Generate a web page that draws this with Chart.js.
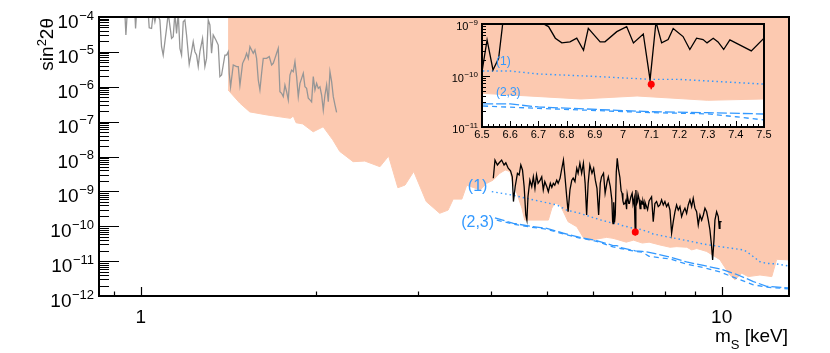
<!DOCTYPE html>
<html>
<head>
<meta charset="utf-8">
<script src="https://cdn.jsdelivr.net/npm/chart.js@4.4.1/dist/chart.umd.min.js"></script>
<style>
  html, body { margin: 0; padding: 0; background: #fff; }
  #wrap { position: relative; width: 830px; height: 353px; }
  #main { position: absolute; left: 0; top: 0; }
  #inset { position: absolute; left: 440px; top: 0; }
</style>
</head>
<body>
<div id="wrap">
  <canvas id="main" width="830" height="353"></canvas>
  <canvas id="inset" width="350" height="150"></canvas>
</div>
<script>
// lower edge of the excluded (shaded) region, [m_S keV, sin^2 2theta]
const excludedEdge = [
  [1.413, 8.1e-7], [1.48, 3.4e-7], [1.54, 1.9e-7], [1.65, 1.55e-7], [1.81, 1.24e-7],
  [1.83, 1.45e-7], [1.85, 9.3e-8], [1.90, 8.6e-8], [1.98, 5.1e-8], [2.06, 7.1e-8],
  [2.14, 3.0e-8], [2.20, 1.4e-8], [2.32, 7.1e-9], [2.43, 7.4e-9], [2.58, 5.1e-9],
  [2.67, 1.03e-8], [2.77, 1.27e-9], [2.85, 1.52e-9], [2.95, 3.7e-9], [3.10, 5.1e-10],
  [3.27, 2.35e-10], [3.38, 2.9e-10], [3.45, 6.0e-10], [3.57, 6.0e-10], [3.64, 1.5e-9],
  [3.84, 1.1e-9], [3.94, 1.7e-9], [4.04, 2.1e-9], [4.15, 3.3e-9], [4.24, 4.1e-9],
  [4.32, 3.7e-9], [4.37, 1.7e-9], [4.44, 8.8e-10], [4.53, 3.3e-10], [4.58, 1.5e-10],
  [5.03, 1.5e-10], [5.10, 3.3e-10], [5.16, 4.6e-10], [5.27, 4.1e-10], [5.34, 2.6e-10],
  [5.44, 1.35e-10], [5.63, 9.7e-11], [5.78, 4.7e-11], [5.93, 4.0e-11], [6.34, 4.8e-11],
  [6.50, 4.5e-11], [6.60, 4.2e-11], [6.85, 3.5e-11], [7.05, 4.0e-11], [7.30, 3.3e-11],
  [7.50, 3.5e-11], [7.83, 2.9e-11], [8.15, 2.5e-11], [8.37, 2.6e-11], [8.71, 2.5e-11],
  [8.88, 2.1e-11], [9.06, 2.3e-11], [9.42, 1.9e-11], [9.93, 1.1e-11], [10.33, 4.0e-12],
  [10.54, 2.9e-12], [10.83, 4.5e-12], [11.11, 3.6e-12], [11.64, 4.0e-12], [12.20, 3.6e-12],
  [12.44, 1.13e-11], [13.06, 1.08e-11]
];

// earlier limit (grey curve)
const greyLimit = [
  [0.9385, 1.3e-4], [0.9423, 3.05e-5], [0.9473, 1.3e-4], [0.9765, 1.3e-4], [0.9791, 4.7e-5],
  [0.9830, 1.3e-4], [1.0295, 1.3e-4], [1.0336, 4.9e-5], [1.0432, 4.7e-5], [1.0501, 1.3e-4],
  [1.0571, 7.3e-5], [1.0641, 1.3e-4], [1.0782, 8.2e-5], [1.0854, 1.41e-5], [1.0925, 8.1e-6],
  [1.0999, 1.96e-5], [1.1072, 4.7e-5], [1.1145, 1.3e-4], [1.1293, 2.44e-5], [1.1368, 2.73e-5],
  [1.1444, 1.3e-4], [1.1519, 3.4e-5], [1.1596, 1.3e-4], [1.1673, 1.26e-5], [1.1750, 8.1e-6],
  [1.1828, 7.3e-5], [1.1906, 8.2e-5], [1.1985, 3.05e-5], [1.2112, 4.4e-6], [1.2225, 1.01e-5],
  [1.2306, 1.96e-5], [1.2388, 1.01e-5], [1.2470, 8.1e-6], [1.2553, 3.8e-6], [1.2636, 1.01e-5],
  [1.2770, 2.44e-5], [1.2889, 3.8e-6], [1.2974, 6.5e-6], [1.3061, 8.2e-5], [1.3147, 5.9e-5],
  [1.3234, 9.1e-6], [1.3322, 3.05e-5], [1.3464, 2.19e-5], [1.3589, 1.57e-5], [1.3679, 1.95e-6],
  [1.3770, 2.17e-6], [1.3861, 4.2e-6], [1.3953, 8.1e-6], [1.4046, 8.1e-6], [1.4139, 1.01e-5],
  [1.4196, 2.43e-6], [1.4271, 1.0e-6], [1.4423, 4.2e-6], [1.4615, 3.8e-6], [1.4712, 3.8e-6],
  [1.4810, 1.12e-6], [1.4967, 4.7e-6], [1.5106, 6.5e-6], [1.5206, 9.1e-6], [1.5307, 6.5e-6],
  [1.5409, 1.41e-5], [1.5511, 1.13e-5], [1.5613, 9.1e-6], [1.5717, 1.13e-5], [1.5821, 6.5e-6],
  [1.5926, 1.56e-6], [1.6031, 8.1e-7], [1.6138, 2.43e-6], [1.6245, 6.5e-6], [1.6353, 6.5e-6],
  [1.6461, 6.5e-6], [1.6636, 7.3e-6], [1.6791, 4.2e-6], [1.6902, 4.7e-6], [1.7014, 6.5e-6],
  [1.7127, 9.1e-6], [1.7240, 1.26e-5], [1.7355, 7.2e-7], [1.7470, 6.5e-7], [1.7586, 5.2e-7],
  [1.7702, 1.12e-6], [1.7820, 7.2e-7], [1.7938, 4.2e-7], [1.8057, 2.17e-6], [1.8177, 3.0e-6],
  [1.8297, 2.7e-6], [1.8419, 5.2e-6], [1.8541, 1.95e-6], [1.8664, 5.2e-7], [1.8788, 1.25e-6],
  [1.8912, 1.74e-6], [1.9038, 2.43e-6], [1.9164, 1.0e-6], [1.9291, 9.0e-7], [1.9419, 4.7e-7],
  [1.9548, 4.2e-7], [1.9677, 3.7e-7], [1.9808, 1.95e-6], [1.9939, 8.1e-7], [2.0072, 1.25e-6],
  [2.0205, 9.0e-7], [2.0339, 1.0e-6], [2.0474, 5.8e-7], [2.0609, 2.15e-7], [2.0746, 5.8e-7],
  [2.0884, 1.12e-6], [2.1022, 3.7e-7], [2.1162, 2.7e-6], [2.1302, 1.4e-6], [2.1443, 5.2e-7],
  [2.1585, 3.0e-7], [2.1728, 1.85e-7]
];

// this limit (black curve)
const blackLimit = [
  [4.044, 2.37e-9], [4.071, 7.9e-9], [4.11, 5.7e-9], [4.14, 6.6e-9], [4.18, 7.9e-9],
  [4.22, 5.7e-9], [4.25, 6.6e-9], [4.29, 4.6e-9], [4.33, 3.9e-9], [4.36, 2.6e-9],
  [4.38, 5.1e-10], [4.41, 1.36e-9], [4.45, 3.3e-9], [4.48, 2.95e-9], [4.51, 5.7e-9],
  [4.54, 4.1e-9], [4.57, 1.36e-9], [4.60, 2.1e-10], [4.62, 1.5e-10], [4.64, 7.0e-10],
  [4.675, 2.1e-9], [4.71, 1.36e-9], [4.74, 2.6e-9], [4.77, 1.22e-9], [4.80, 2.95e-9],
  [4.83, 1.7e-9], [4.87, 2.1e-9], [4.90, 2.6e-9], [4.93, 1.1e-9], [4.96, 1.9e-9],
  [5.00, 1.36e-9], [5.03, 9.8e-10], [5.07, 1.7e-9], [5.10, 1.3e-9], [5.13, 1.7e-9],
  [5.16, 1.5e-9], [5.20, 2.1e-9], [5.23, 1.7e-9], [5.27, 2.4e-9], [5.30, 4.1e-9],
  [5.34, 7.9e-9], [5.37, 2.95e-9], [5.41, 7.0e-10], [5.44, 2.6e-10], [5.48, 1.1e-9],
  [5.52, 2.1e-9], [5.55, 2.4e-9], [5.59, 1.9e-9], [5.63, 4.6e-9], [5.66, 3.3e-9],
  [5.70, 6.4e-9], [5.74, 3.3e-9], [5.78, 6.4e-9], [5.82, 1.7e-9], [5.855, 2.1e-10],
  [5.89, 1.7e-9], [5.93, 5.7e-9], [5.98, 3.3e-9], [6.02, 4.6e-9], [6.06, 2.1e-9],
  [6.10, 1.22e-9], [6.14, 2.1e-10], [6.18, 1.7e-9], [6.21, 2.6e-9], [6.26, 3.3e-9],
  [6.30, 8.8e-10], [6.35, 1.9e-9], [6.38, 2.6e-9], [6.43, 1.36e-9], [6.47, 5.7e-10],
  [6.49, 1.4e-10], [6.50, 1.19e-10], [6.518, 4.9e-10], [6.539, 1.28e-10], [6.559, 2.16e-10],
  [6.585, 3.5e-9], [6.61, 8.9e-9], [6.64, 4.5e-9], [6.68, 2.5e-9], [6.712, 1.05e-9],
  [6.736, 8.9e-10], [6.76, 5.3e-10], [6.783, 4.3e-10], [6.812, 4.5e-10], [6.836, 5.3e-10],
  [6.86, 3.1e-10], [6.877, 8.2e-10], [6.919, 4.5e-10], [6.936, 4.5e-10], [6.978, 7.1e-10],
  [7.013, 8.9e-10], [7.037, 4.3e-10], [7.072, 6.4e-10], [7.096, 8.2e-11], [7.117, 1.1e-9],
  [7.137, 4.3e-10], [7.16, 5.0e-10], [7.178, 8.2e-10], [7.213, 5.7e-10], [7.237, 3.2e-10],
  [7.261, 5.3e-10], [7.284, 5.0e-10], [7.298, 4.3e-10], [7.32, 5.3e-10], [7.337, 4.5e-10],
  [7.357, 3.2e-10], [7.379, 4.9e-10], [7.455, 3.0e-10], [7.50, 5.3e-10], [7.574, 7.0e-10],
  [7.624, 1.35e-10], [7.675, 4.5e-10], [7.726, 5.1e-10], [7.777, 3.65e-10], [7.829, 4.07e-10],
  [7.881, 5.7e-10], [7.933, 4.07e-10], [7.985, 5.1e-10], [8.038, 3.65e-10], [8.091, 4.5e-10],
  [8.147, 2.9e-10], [8.20, 6.3e-11], [8.254, 1.35e-10], [8.309, 2.6e-10], [8.363, 4.07e-10],
  [8.419, 2.9e-10], [8.475, 3.65e-10], [8.532, 1.9e-10], [8.587, 2.6e-10], [8.645, 3.3e-10],
  [8.703, 2.35e-10], [8.759, 4.07e-10], [8.818, 5.7e-10], [8.877, 3.65e-10], [8.934, 6.3e-10],
  [8.995, 3.3e-10], [9.055, 2.6e-10], [9.114, 1.09e-10], [9.175, 2.1e-10], [9.237, 1.5e-10],
  [9.299, 2.1e-10], [9.359, 3.3e-10], [9.422, 2.6e-10], [9.484, 1.5e-10], [9.546, 7.8e-11],
  [9.61, 2.6e-11], [9.648, 1.08e-11], [9.699, 4.0e-11], [9.737, 1.5e-10], [9.802, 2.6e-10],
  [9.867, 1.9e-10], [9.906, 8.7e-11], [9.933, 1.35e-10], [10.0, 1.35e-10]
];

// sensitivity curves (1) dotted, (2) and (3) dashed
const sens1 = [
  [4.02, 9.8e-10], [4.35, 7.9e-10], [4.74, 5.7e-10], [5.20, 4.1e-10], [5.41, 2.9e-10],
  [5.70, 2.35e-10], [5.93, 1.9e-10], [6.20, 1.5e-10], [6.50, 1.22e-10], [6.60, 1.22e-10],
  [6.70, 1.07e-10], [6.90, 9.6e-11], [7.10, 8.4e-11], [7.20, 8.4e-11], [7.50, 6.8e-11],
  [7.62, 6.0e-11], [8.15, 4.8e-11], [8.70, 3.9e-11], [9.30, 3.1e-11], [9.93, 2.6e-11],
  [10.9, 2.1e-11], [11.04, 1.87e-11], [11.34, 1.34e-11], [11.64, 9.6e-12], [11.95, 8.6e-12],
  [12.44, 8.3e-12], [13.06, 7.2e-12]
];
const sens2 = [
  [4.07, 1.75e-10], [4.38, 1.21e-10], [4.68, 1.0e-10], [5.00, 8.7e-11], [5.34, 6.3e-11],
  [5.70, 4.8e-11], [6.09, 3.9e-11], [6.50, 2.8e-11], [6.60, 2.8e-11], [6.70, 2.45e-11],
  [7.10, 1.98e-11], [7.30, 1.9e-11], [7.50, 1.79e-11], [8.15, 1.3e-11], [8.70, 9.5e-12],
  [9.30, 7.5e-12], [9.93, 6.0e-12], [10.6, 4.2e-12], [11.34, 2.6e-12], [11.95, 1.9e-12],
  [13.06, 1.7e-12]
];
const sens3 = [
  [4.10, 1.5e-10], [4.38, 1.15e-10], [4.68, 9.5e-11], [5.00, 8.2e-11], [5.34, 6.0e-11],
  [5.70, 4.6e-11], [6.09, 3.7e-11], [6.50, 2.56e-11], [6.70, 2.3e-11], [6.85, 2.14e-11],
  [7.10, 1.9e-11], [7.30, 1.8e-11], [7.40, 1.58e-11], [7.50, 1.37e-11], [8.15, 1.15e-11],
  [8.70, 8.2e-12], [9.30, 6.5e-12], [9.93, 4.9e-12], [10.6, 3.2e-12], [11.34, 2.1e-12],
  [11.95, 1.8e-12], [13.06, 1.6e-12]
];

// signal candidate and its error bar
const signalPoint = [[7.1, 6.8e-11]];
const signalError = [[7.1, 5.4e-11], [7.1, 7.8e-11]];

// curve labels, anchored in data coordinates
const mainCurveLabels = [ ['(1)', 3.80, 1.36e-9], ['(2,3)', 3.80, 1.28e-10] ];
const insetCurveLabels = [ ['(1)', 6.576, 1.85e-10], ['(2,3)', 6.593, 4.6e-11] ];

// axis ticks
const yDecades = [1e-12, 1e-11, 1e-10, 1e-9, 1e-8, 1e-7, 1e-6, 1e-5, 1e-4];
const xMajorTicks = [1, 10];
const xMinorTicks = [0.9, 2, 3, 4, 5, 6, 7, 8, 9];
const insetYDecades = [1e-11, 1e-10, 1e-9];
const insetXTicks = [6.5, 6.6, 6.7, 6.8, 6.9, 7, 7.1, 7.2, 7.3, 7.4, 7.5];

const FONT = '"Liberation Sans", Arial, Helvetica, sans-serif';
const SALMON = 'rgb(252, 201, 176)';
const GREY = 'rgb(150, 150, 150)';
const BLUE = 'rgb(51, 153, 255)';
const RED = 'rgb(255, 0, 0)';

const toXY = (pts) => pts.map(([x, y]) => ({x: x, y: y}));

// one plain line dataset
function lineSet (label, pts, color, width, dash, order) {
    return { label: label, data: toXY(pts), borderColor: color, borderWidth: width,
        borderDash: dash, pointRadius: 0, fill: false, tension: 0, order: order }; }

// all datasets; main plot and inset share them
function buildDatasets () {
    return [
        { label: 'excluded', data: toXY(excludedEdge), borderColor: SALMON, backgroundColor: SALMON,
          borderWidth: 1, pointRadius: 0, fill: 'end', tension: 0, order: 9 },
        lineSet('grey', greyLimit, GREY, 1.3, [], 8),
        lineSet('(2)', sens2, BLUE, 1.3, [10, 3], 7),
        lineSet('(3)', sens3, BLUE, 1.3, [5, 4], 6),
        lineSet('(1)', sens1, BLUE, 1.4, [1.5, 3], 5),
        lineSet('limit', blackLimit, '#000', 1.3, [], 4),
        lineSet('error', signalError, RED, 1.5, [], 2),
        { label: 'signal', data: toXY(signalPoint), showLine: false, pointRadius: 3.5,
          pointBackgroundColor: RED, pointBorderWidth: 0, order: 1 } ];
}

// "10" with a raised negative exponent, right aligned
function drawPower (ctx, value, right, tickY, o) {
    const sup = '\u2212' + Math.abs(Math.round(Math.log10(value)));
    ctx.textAlign = 'right';
    ctx.textBaseline = 'alphabetic';
    ctx.font = o.sup + 'px ' + FONT;
    const ws = ctx.measureText(sup).width;
    ctx.fillText(sup, right, tickY + o.supDy);
    ctx.font = o.base + 'px ' + FONT;
    ctx.fillText('10', right - ws - o.gap, tickY + o.baseDy);
}

// run of text pieces [text, size, dy] drawn left to right from x
function drawPieces (ctx, pieces, x, y) {
    ctx.textAlign = 'left';
    ctx.textBaseline = 'alphabetic';
    for (const [t, size, dy] of pieces) {
        ctx.font = size + 'px ' + FONT;
        ctx.fillText(t, x, y + dy);
        x += ctx.measureText(t).width; }
}

function piecesWidth (ctx, pieces) {
    let w = 0;
    for (const [t, size] of pieces) { ctx.font = size + 'px ' + FONT; w += ctx.measureText(t).width; }
    return w; }

function drawCurveLabels (chart, labels, size) {
    const {ctx, scales: {x, y}} = chart;
    ctx.fillStyle = BLUE;
    ctx.font = size + 'px ' + FONT;
    ctx.textAlign = 'center';
    ctx.textBaseline = 'middle';
    for (const [t, vx, vy] of labels) { ctx.fillText(t, x.getPixelForValue(vx), y.getPixelForValue(vy)); }
}

/* ------------------------------------------- main frame ------------------------------------------------------- */

const mainFrame = {
    id: 'mainFrame',
    afterDatasetsDraw (chart) {
        const {ctx, chartArea: a, scales: {x, y}} = chart;
        ctx.save();
        drawCurveLabels(chart, mainCurveLabels, 16);

        ctx.strokeStyle = '#000';
        ctx.lineWidth = 1.2;
        ctx.beginPath();
        yDecades.forEach((d, i) => {
            const py = Math.round(y.getPixelForValue(d)) + 0.5;
            ctx.moveTo(a.left, py); ctx.lineTo(a.left + 20, py);
            if (i < yDecades.length - 1) {
                for (let k = 2; k <= 9; k++) {
                    const pm = Math.round(y.getPixelForValue(k * d)) + 0.5;
                    ctx.moveTo(a.left, pm); ctx.lineTo(a.left + 10, pm); } } });
        xMajorTicks.forEach((t) => {
            const px = Math.round(x.getPixelForValue(t)) + 0.5;
            ctx.moveTo(px, a.bottom); ctx.lineTo(px, a.bottom - 9); });
        xMinorTicks.forEach((t) => {
            const px = Math.round(x.getPixelForValue(t)) + 0.5;
            ctx.moveTo(px, a.bottom); ctx.lineTo(px, a.bottom - 4.5); });
        ctx.stroke();

        ctx.lineWidth = 2;
        ctx.strokeRect(a.left, a.top, a.right - a.left, a.bottom - a.top);

        ctx.fillStyle = '#000';
        yDecades.forEach((d) => {
            drawPower(ctx, d, 94, y.getPixelForValue(d), {base: 19, sup: 13, baseDy: 11, supDy: 2.5, gap: 0.5}); });
        ctx.font = '19px ' + FONT;
        ctx.textAlign = 'center';
        ctx.textBaseline = 'alphabetic';
        xMajorTicks.forEach((t) => { ctx.fillText(String(t), x.getPixelForValue(t), 322.5); });

        // x title, right aligned
        const xTitle = [['m', 19, 0], ['S', 13, 7], [' [keV]', 19, 0]];
        drawPieces(ctx, xTitle, 788 - piecesWidth(ctx, xTitle), 342);

        // y title, rotated, ending at the top of the frame
        const yTitle = [['sin', 19, 0], ['2', 13, -7], ['2\u03b8', 19, 0]];
        ctx.translate(53, 18);
        ctx.rotate(-Math.PI / 2);
        drawPieces(ctx, yTitle, -piecesWidth(ctx, yTitle), 0);
        ctx.restore();
    }
};

/* ------------------------------------------- inset frame ------------------------------------------------------ */

const insetFrame = {
    id: 'insetFrame',
    beforeDatasetsDraw (chart) {
        const {ctx, chartArea: a} = chart;
        ctx.save();
        ctx.fillStyle = '#fff';
        ctx.fillRect(a.left, a.top, a.right - a.left, a.bottom - a.top);
        ctx.restore();
    },
    afterDatasetsDraw (chart) {
        const {ctx, chartArea: a, scales: {x, y}} = chart;
        ctx.save();
        drawCurveLabels(chart, insetCurveLabels, 12);

        ctx.strokeStyle = '#000';
        ctx.lineWidth = 1;
        ctx.beginPath();
        insetYDecades.forEach((d, i) => {
            const py = Math.round(y.getPixelForValue(d)) + 0.5;
            ctx.moveTo(a.left, py); ctx.lineTo(a.left + 8, py);
            if (i < insetYDecades.length - 1) {
                for (let k = 2; k <= 9; k++) {
                    const pm = Math.round(y.getPixelForValue(k * d)) + 0.5;
                    ctx.moveTo(a.left, pm); ctx.lineTo(a.left + 4, pm); } } });
        insetXTicks.forEach((t, i) => {
            const px = Math.round(x.getPixelForValue(t)) + 0.5;
            ctx.moveTo(px, a.bottom); ctx.lineTo(px, a.bottom - 6);
            if (i < insetXTicks.length - 1) {
                for (let k = 1; k < 5; k++) {
                    const pm = Math.round(x.getPixelForValue(t + k * 0.02)) + 0.5;
                    ctx.moveTo(pm, a.bottom); ctx.lineTo(pm, a.bottom - 3); } } });
        ctx.stroke();

        ctx.lineWidth = 2;
        ctx.strokeRect(a.left, a.top, a.right - a.left, a.bottom - a.top);

        ctx.fillStyle = '#000';
        insetYDecades.forEach((d) => {
            drawPower(ctx, d, a.left - 4, y.getPixelForValue(d), {base: 11, sup: 8, baseDy: 6, supDy: 1, gap: 0.5}); });
        ctx.font = '11px ' + FONT;
        ctx.textAlign = 'center';
        ctx.textBaseline = 'alphabetic';
        insetXTicks.forEach((t) => { ctx.fillText(String(t), x.getPixelForValue(t), a.bottom + 11); });
        ctx.restore();
    }
};

/* ------------------------------------------- charts ----------------------------------------------------------- */

function chartOptions (padding, xScale, yScale) {
    return {
        responsive: false,
        animation: false,
        events: [],
        layout: { padding: padding },
        scales: { x: xScale, y: yScale },
        plugins: { legend: { display: false }, tooltip: { enabled: false } }
    }; }

const mainChart = new Chart('main', {
    type: 'line',
    data: { datasets: buildDatasets() },
    options: chartOptions({left: 99, top: 17, right: 41, bottom: 57},
        { type: 'logarithmic', min: 0.847, max: 13.06, display: false },
        { type: 'logarithmic', min: 1e-12, max: 1e-4, display: false }),
    plugins: [mainFrame]
});

const insetChart = new Chart('inset', {
    type: 'line',
    data: { datasets: buildDatasets() },
    options: chartOptions({left: 42, top: 24, right: 26, bottom: 23},
        { type: 'linear', min: 6.5, max: 7.5, display: false },
        { type: 'logarithmic', min: 1e-11, max: 1e-9, display: false }),
    plugins: [insetFrame]
});
</script>
</body>
</html>
